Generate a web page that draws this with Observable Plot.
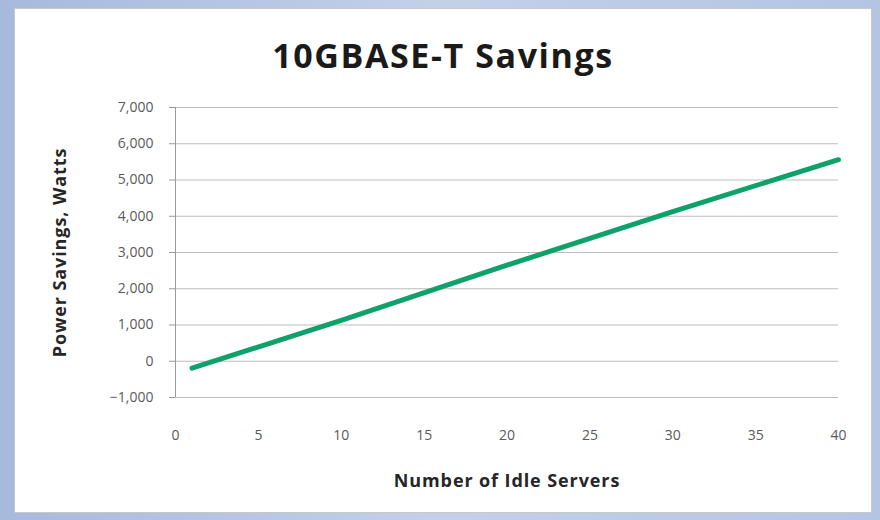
<!DOCTYPE html>
<html>
<head>
<meta charset="utf-8">
<script src="https://cdn.jsdelivr.net/npm/d3@7"></script>
<script src="https://cdn.jsdelivr.net/npm/@observablehq/plot@0.6"></script>
<style>
  html, body { margin: 0; padding: 0; }
  body {
    width: 880px; height: 520px; overflow: hidden; position: relative;
    background: linear-gradient(90deg, #a6badc 0%, #c3d1e8 50%, #b3c5e2 100%);
    font-family: "Open Sans", Lato, sans-serif;
  }
  #panel {
    position: absolute; left: 14px; top: 8px; width: 858px; height: 505px;
    background: #ffffff; border: 1px solid #c8c8c8; box-sizing: border-box;
  }
  #chart { position: absolute; left: 0; top: 0; }
</style>
</head>
<body>
<div id="panel"></div>
<div id="chart"></div>
<script>
// Data
const servers = [1, 10, 20, 30, 40];
const savings = [-190, 1130, 2650, 4130, 5560];
const yTicks = [-1000, 0, 1000, 2000, 3000, 4000, 5000, 6000, 7000];
const xTicks = [0, 5, 10, 15, 20, 25, 30, 35, 40];
const titleText = "10GBASE-T Savings";
const xTitle = "Number of Idle Servers";
const yTitle = "Power Savings, Watts";

const data = servers.map((s, i) => ({servers: s, savings: savings[i]}));

const chart = Plot.plot({
  width: 880,
  height: 520,
  marginLeft: 175,
  marginRight: 42,
  marginTop: 107,
  marginBottom: 123,
  style: {background: "transparent", fontFamily: "'Open Sans', Lato, sans-serif", overflow: "visible"},
  x: {domain: [0, 40], ticks: xTicks, label: null},
  y: {domain: [-1000, 7000], ticks: yTicks, label: null},
  marks: [
    Plot.gridY(yTicks, {stroke: "#bdbdbd", strokeOpacity: 1, strokeWidth: 1.2}),
    Plot.ruleX([0], {stroke: "#9a9a9a", strokeWidth: 1}),
    Plot.axisY(yTicks, {tickSize: 6, tickPadding: 16, stroke: "#9a9a9a", tickFormat: d3.format(","), fontSize: 14, fill: "#5a5a5a", label: null}),
    Plot.axisX(xTicks, {tickSize: 0, tickPadding: 33, fontSize: 14, fill: "#5a5a5a", label: null}),
    Plot.line(data, {x: "servers", y: "savings", stroke: "#0fa16a", strokeWidth: 5, strokeLinecap: "round"}),
    Plot.text([titleText], {frameAnchor: "top", dx: -64, dy: -50, lineAnchor: "middle", textAnchor: "middle", fontSize: 34, fontWeight: "bold", fill: "#1a1a1a", text: d => d}),
    Plot.text([xTitle], {frameAnchor: "bottom", dy: 84, lineAnchor: "middle", textAnchor: "middle", fontSize: 18, fontWeight: "bold", fill: "#262626", text: d => d}),
    Plot.text([yTitle], {frameAnchor: "left", dx: -115, rotate: -90, lineAnchor: "middle", textAnchor: "middle", fontSize: 18, fontWeight: "bold", fill: "#262626", text: d => d})
  ]
});
d3.select(chart).selectAll("text").each(function() {
  const t = this.textContent;
  if (t === titleText) this.style.letterSpacing = "1.6px";
  else if (t === xTitle || t === yTitle) this.style.letterSpacing = "0.9px";
});
document.getElementById("chart").appendChild(chart);
</script>
</body>
</html>
